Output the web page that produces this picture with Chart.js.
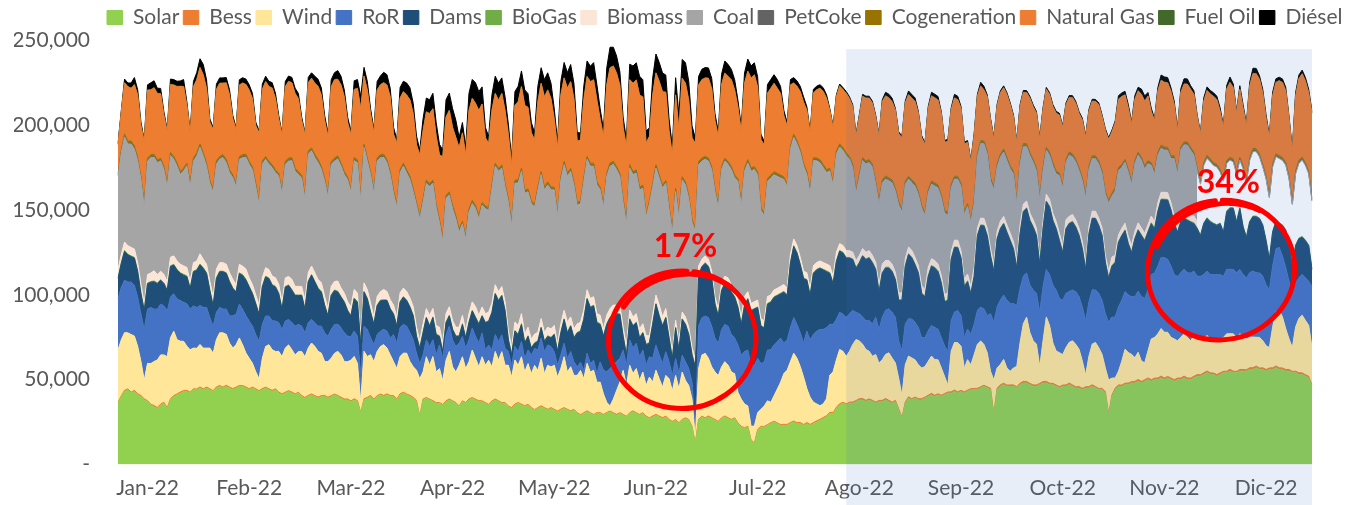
<!DOCTYPE html>
<html>
<head>
<meta charset="utf-8">
<script src="https://cdn.jsdelivr.net/npm/chart.js@4"></script>
<style>
  html, body { margin: 0; padding: 0; background: #fff; }
  #wrap { width: 1345px; height: 505px; }
</style>
</head>
<body>
<div id="wrap"><canvas id="chartMix" width="1345" height="505"></canvas></div>
<script>
/* Generación diaria 2022 por tecnología (miles de MWh / día) */

const DAYS = Array.from({ length: 365 }, (_, i) =>
  new Date(Date.UTC(2022, 0, 1 + i)).toISOString().slice(0, 10));

const MONTH_TICKS    = ['Jan-22','Feb-22','Mar-22','Apr-22','May-22','Jun-22','Jul-22','Ago-22','Sep-22','Oct-22','Nov-22','Dic-22'];
const MONTH_TICK_DAY = [9, 40, 71, 102, 133, 164, 195, 226, 257, 288, 319, 350];

const Y_TICKS = [0, 50000, 100000, 150000, 200000, 250000];

// one row per week, Sat..Fri (1 Jan 2022 = Saturday)
const SOLAR = [
36,40,43,44,42,43,41, 40,38,37,35,34,33,35, 36,33,38,40,41,42,43, 43,42,44,44,45,44,45,
44,43,45,46,45,46,45, 44,45,46,46,45,44,45, 44,43,44,45,44,43,44, 42,41,42,43,42,41,42,
40,39,40,41,40,39,40, 40,39,40,41,40,39,38, 38,37,38,37,30,38,39, 40,38,40,41,40,41,40,
40,38,41,42,41,40,39, 37,28,38,39,38,37,36, 36,35,37,38,37,36,34, 37,36,38,39,38,37,37,
36,35,37,38,37,36,36, 34,33,35,36,35,34,35, 33,32,33,34,33,32,33, 32,31,32,33,32,31,32,
30,29,30,31,30,29,30, 30,29,30,31,30,29,30, 29,28,30,31,30,29,30, 28,27,28,29,28,27,28,
26,25,26,24,26,27,26, 22,12,26,28,27,28,27, 26,25,27,28,27,26,27, 24,22,21,22,14,12,20,
22,22,23,24,25,24,23, 23,23,24,25,24,24,23, 24,23,24,25,26,27,28, 30,30,33,35,36,35,36,
36,37,38,38,37,38,37, 36,37,37,38,37,36,37, 32,27,36,39,38,39,38, 38,39,40,41,40,41,40,
41,42,42,43,42,43,42, 43,44,44,44,45,46,45, 44,29,44,46,47,46,46, 46,45,47,48,48,47,46,
46,47,48,48,47,47,46, 45,46,46,47,46,45,45, 44,45,45,46,45,44,44, 42,29,40,44,46,46,47,
47,48,48,49,48,49,50, 49,50,50,51,50,51,50, 49,50,50,51,50,50,51, 52,52,53,54,53,53,52,
53,54,54,55,54,54,55, 55,55,56,56,57,56,56, 55,56,56,57,56,56,55, 55,54,54,53,53,52,51,
46];

const BESS = [
0.6,0.5,0.7,0.6,0.6,0.7,0.6, 0.7,0.6,0.6,0.5,0.7,0.6,0.6, 0.6,0.5,0.7,0.6,0.6,0.7,0.6, 0.7,0.6,0.6,0.5,0.7,0.6,0.6,
0.6,0.5,0.7,0.6,0.6,0.7,0.6, 0.7,0.6,0.6,0.5,0.7,0.6,0.6, 0.6,0.5,0.7,0.6,0.6,0.7,0.6, 0.7,0.6,0.6,0.5,0.7,0.6,0.6,
0.6,0.5,0.7,0.6,0.6,0.7,0.6, 0.7,0.6,0.6,0.5,0.7,0.6,0.6, 0.6,0.5,0.7,0.6,0.6,0.7,0.6, 0.7,0.6,0.6,0.5,0.7,0.6,0.6,
0.6,0.5,0.7,0.6,0.6,0.7,0.6, 0.5,0.5,0.6,0.5,0.5,0.6,0.5, 0.5,0.4,0.5,0.6,0.5,0.5,0.5, 0.5,0.5,0.6,0.5,0.5,0.6,0.5,
0.5,0.4,0.5,0.6,0.5,0.5,0.5, 0.5,0.5,0.6,0.5,0.5,0.6,0.5, 0.5,0.4,0.5,0.6,0.5,0.5,0.5, 0.5,0.5,0.6,0.5,0.5,0.6,0.5,
0.5,0.4,0.5,0.6,0.5,0.5,0.5, 0.5,0.5,0.6,0.5,0.5,0.6,0.5, 0.5,0.4,0.5,0.6,0.5,0.5,0.5, 0.5,0.5,0.6,0.5,0.5,0.6,0.5,
0.5,0.4,0.5,0.6,0.5,0.5,0.5, 0.5,0.5,0.6,0.5,0.5,0.6,0.5, 0.5,0.4,0.5,0.6,0.5,0.5,0.5, 0.5,0.5,0.6,0.5,0.5,0.6,0.5,
0.5,0.4,0.5,0.6,0.5,0.5,0.5, 0.6,0.6,0.7,0.6,0.6,0.7,0.6, 0.7,0.6,0.7,0.7,0.6,0.7,0.7, 0.7,0.6,0.7,0.8,0.7,0.7,0.7,
0.8,0.7,0.8,0.9,0.8,0.7,0.8, 0.8,0.7,0.8,0.9,0.8,0.7,0.8, 0.8,0.7,0.8,0.9,0.8,0.7,0.8, 0.8,0.7,0.8,0.9,0.8,0.7,0.8,
0.8,0.7,0.8,0.9,0.8,0.7,0.8, 0.8,0.7,0.8,0.9,0.8,0.7,0.8, 0.9,0.8,0.9,1.0,0.9,0.8,0.9, 0.9,0.8,0.9,1.0,0.9,0.8,0.9,
0.9,0.8,0.9,1.0,0.9,0.8,0.9, 0.9,0.8,0.9,1.0,0.9,0.8,0.9, 0.9,0.8,0.9,1.0,0.9,0.8,0.9, 0.9,0.8,0.9,1.0,0.9,0.8,0.9,
1.0,0.9,1.0,1.1,1.0,0.9,1.0, 1.0,0.9,1.0,1.1,1.0,0.9,1.0, 1.0,0.9,1.0,1.1,1.0,0.9,1.0, 1.0,0.9,1.0,1.1,1.0,0.9,1.0,
1.0,0.9,1.0,1.1,1.0,0.9,1.0, 1.0,0.9,1.0,1.1,1.0,0.9,1.0, 1.0,0.9,1.0,1.1,1.0,0.9,1.0, 1.0,0.9,1.0,1.1,1.0,0.9,1.0,
0.9];

const WIND = [
31,33,34,33,34,32,28, 20,11,22,24,26,28,29, 28,30,36,38,32,30,29, 26,25,24,24,25,24,23,
24,22,28,31,32,30,26, 24,25,28,24,20,18,14, 10,7,18,24,26,24,22, 24,22,26,27,25,23,24,
26,24,28,30,29,27,25, 20,21,22,24,26,25,22, 22,24,25,22,6,28,24, 24,22,26,28,30,27,24,
20,18,22,23,24,20,18, 18,22,16,24,20,26,18, 20,14,24,28,20,18,24, 26,20,22,28,24,20,26,
22,26,20,28,24,30,22, 24,18,26,22,28,20,24, 20,26,22,28,20,26,24, 26,20,24,30,22,26,20,
22,26,20,28,24,26,18, 18,12,6,3,8,14,18, 26,18,28,22,26,20,24, 18,24,20,26,22,18,24,
24,18,26,20,28,22,20, 16,3,30,36,38,34,30, 28,27,30,32,31,28,26, 18,16,14,12,8,10,10,
10,12,14,12,15,20,25, 30,32,36,40,38,33,28, 20,16,12,10,8,8,10, 22,24,28,32,30,28,30,
34,36,34,32,30,28,26, 28,22,24,26,28,26,22, 18,13,22,24,24,22,20, 18,18,20,22,21,20,16,
10,4,24,28,29,26,14, 18,14,20,26,27,24,20, 10,20,12,12,14,10,8, 10,12,24,34,38,30,26,
24,10,24,38,34,24,20, 20,18,22,24,26,25,22, 16,7,18,24,26,24,20, 14,20,10,6,8,14,20,
18,16,14,16,12,10,16, 24,24,26,28,27,26,24, 24,22,24,25,24,22,24, 20,22,20,21,20,19,21,
20,20,22,21,22,20,21, 20,18,18,18,17,18,16, 14,12,24,32,34,30,24, 18,14,26,32,34,32,30,
22];

const ROR = [
30,31,31,30,31,30,29, 28,30,32,33,31,30,30, 29,27,24,22,24,24,23, 25,24,25,24,23,24,24,
18,16,16,15,14,15,16, 19,18,20,21,22,22,22, 22,22,20,18,17,17,18, 17,16,16,15,16,17,16,
15,14,15,14,14,15,16, 17,15,17,17,16,16,17, 15,14,15,16,16,15,16, 10,10,10,9,9,10,10,
16,15,17,17,16,17,16, 10,9,10,10,11,10,10, 14,13,15,15,16,15,13, 12,12,13,13,13,14,14,
9,9,10,10,11,10,10, 8,7,8,8,9,8,8, 11,10,12,12,13,12,12, 8,7,8,8,8,9,8,
5,5,5,6,5,6,5, 12,14,18,22,20,17,14, 12,12,15,15,15,14,13, 12,12,14,15,14,14,14,
10,9,10,9,10,11,10, 10,5,25,22,22,24,24, 20,19,22,22,23,22,21, 28,26,31,33,36,36,32,
27,26,30,31,30,28,26, 18,18,20,21,20,20,20, 34,34,40,43,45,44,42, 30,28,24,22,22,23,22,
20,16,16,16,17,18,19, 22,20,25,26,26,27,27, 22,26,24,22,23,22,22, 18,17,18,18,19,18,18,
18,20,18,18,19,18,18, 18,18,18,20,20,21,22, 34,34,36,38,38,40,40, 38,36,32,28,26,28,30,
30,32,32,28,30,34,36, 32,32,32,30,30,31,31, 32,32,32,32,31,32,32, 32,34,36,36,38,36,34,
34,34,36,36,38,38,36, 38,38,40,42,44,43,42, 38,38,38,38,38,40,38, 38,36,38,38,38,39,38,
38,36,38,38,38,38,38, 36,36,38,39,38,38,38, 36,34,36,37,37,36,36, 34,30,26,24,24,25,26,
36];

const DAMS = [
12,14,17,16,15,16,15, 12,11,15,15,16,15,14, 13,12,18,17,17,16,16, 16,12,20,22,24,23,20,
16,12,20,21,22,21,20, 16,13,18,20,21,20,19, 18,16,22,23,22,21,20, 17,12,20,20,19,18,17,
18,14,24,26,24,22,20, 16,12,20,20,19,18,18, 15,12,19,20,18,20,18, 15,12,17,18,17,18,17,
12,10,15,16,15,15,14, 10,9,13,13,12,13,12, 5,4,7,6,6,6,4, 7,6,10,10,11,11,10,
16,14,22,24,24,23,22, 7,6,9,10,10,9,8, 4,3,5,6,6,5,5, 10,8,13,14,15,15,14,
20,18,30,32,33,32,30, 22,20,28,30,29,28,26, 8,6,12,13,12,11,10, 12,8,20,24,23,22,20,
14,10,18,14,21,22,20, 16,37,30,30,31,30,28, 20,16,23,24,24,25,24, 22,18,27,30,32,33,30,
22,20,27,28,28,27,26, 30,26,38,42,42,40,38, 30,26,36,36,36,35,33, 30,24,34,36,36,35,33,
30,26,30,36,36,37,36, 28,22,26,25,24,24,22, 24,30,34,38,36,34,32, 26,24,32,35,35,34,32,
26,30,36,38,37,34,30, 28,24,28,44,48,49,47, 34,30,40,42,42,40,37, 32,22,32,38,38,38,37,
34,28,34,40,40,38,36, 34,28,38,40,40,38,36, 34,30,40,42,42,40,38, 30,26,30,32,38,38,36,
30,26,34,36,36,34,34, 30,26,32,34,34,35,33, 30,26,30,30,31,30,28, 28,24,30,31,31,30,29,
30,26,34,36,36,30,36, 28,24,30,32,33,32,30, 26,18,20,16,14,18,22, 22,18,22,23,22,22,21,
10];

const BIOGAS = [
0.4,0.4,0.5,0.4,0.4,0.4,0.5, 0.5,0.4,0.4,0.4,0.5,0.4,0.4, 0.4,0.4,0.5,0.4,0.4,0.4,0.5, 0.5,0.4,0.4,0.4,0.5,0.4,0.4,
0.4,0.4,0.5,0.4,0.4,0.4,0.5, 0.5,0.4,0.4,0.4,0.5,0.4,0.4, 0.4,0.4,0.5,0.4,0.4,0.4,0.5, 0.5,0.4,0.4,0.4,0.5,0.4,0.4,
0.4,0.4,0.5,0.4,0.4,0.4,0.5, 0.5,0.4,0.4,0.4,0.5,0.4,0.4, 0.4,0.4,0.5,0.4,0.4,0.4,0.5, 0.5,0.4,0.4,0.4,0.5,0.4,0.4,
0.4,0.4,0.5,0.4,0.4,0.4,0.5, 0.5,0.4,0.4,0.4,0.5,0.4,0.4, 0.4,0.4,0.5,0.4,0.4,0.4,0.5, 0.5,0.4,0.4,0.4,0.5,0.4,0.4,
0.4,0.4,0.5,0.4,0.4,0.4,0.5, 0.5,0.4,0.4,0.4,0.5,0.4,0.4, 0.4,0.4,0.5,0.4,0.4,0.4,0.5, 0.5,0.4,0.4,0.4,0.5,0.4,0.4,
0.4,0.4,0.5,0.4,0.4,0.4,0.5, 0.5,0.4,0.4,0.4,0.5,0.4,0.4, 0.4,0.4,0.5,0.4,0.4,0.4,0.5, 0.5,0.4,0.4,0.4,0.5,0.4,0.4,
0.4,0.4,0.5,0.4,0.4,0.4,0.5, 0.5,0.4,0.4,0.4,0.5,0.4,0.4, 0.4,0.4,0.5,0.4,0.4,0.4,0.5, 0.5,0.4,0.4,0.4,0.5,0.4,0.4,
0.4,0.4,0.5,0.4,0.4,0.4,0.5, 0.5,0.4,0.4,0.4,0.5,0.4,0.4, 0.4,0.4,0.5,0.4,0.4,0.4,0.5, 0.5,0.4,0.4,0.4,0.5,0.4,0.4,
0.4,0.4,0.5,0.4,0.4,0.4,0.5, 0.5,0.4,0.4,0.4,0.5,0.4,0.4, 0.4,0.4,0.5,0.4,0.4,0.4,0.5, 0.5,0.4,0.4,0.4,0.5,0.4,0.4,
0.4,0.4,0.5,0.4,0.4,0.4,0.5, 0.5,0.4,0.4,0.4,0.5,0.4,0.4, 0.4,0.4,0.5,0.4,0.4,0.4,0.5, 0.5,0.4,0.4,0.4,0.5,0.4,0.4,
0.4,0.4,0.5,0.4,0.4,0.4,0.5, 0.5,0.4,0.4,0.4,0.5,0.4,0.4, 0.4,0.4,0.5,0.4,0.4,0.4,0.5, 0.5,0.4,0.4,0.4,0.5,0.4,0.4,
0.4,0.4,0.5,0.4,0.4,0.4,0.5, 0.5,0.4,0.4,0.4,0.5,0.4,0.4, 0.4,0.4,0.5,0.4,0.4,0.4,0.5, 0.5,0.4,0.4,0.4,0.5,0.4,0.4,
0.4,0.4,0.5,0.4,0.4,0.4,0.5, 0.5,0.4,0.4,0.4,0.5,0.4,0.4, 0.4,0.4,0.5,0.4,0.4,0.4,0.5, 0.5,0.4,0.4,0.4,0.5,0.4,0.4,
0.4];

const BIOMASS = [
5,5,5,5,5,5,5, 5,4,5,5,6,5,5, 5,5,5,5,5,5,5, 5,4,5,5,6,5,5, 5,5,5,5,5,5,5, 5,4,5,5,6,5,5, 5,5,5,5,5,5,5,
5,4,5,5,6,5,5, 5,5,5,5,5,5,5, 5,4,5,5,6,5,5, 5,5,5,5,5,5,5, 5,4,5,5,6,5,5, 5,5,5,5,5,5,5, 5,4,5,5,6,5,5,
5,5,5,5,5,5,5, 5,4,5,5,6,5,5, 5,5,5,5,5,5,5, 5,4,5,5,6,5,5, 5,5,5,5,5,5,5, 5,4,5,5,6,5,5, 5,5,5,5,5,5,5,
5,4,5,5,6,5,5, 5,5,5,5,5,5,5, 5,4,5,5,6,5,5, 4,4,4,4,4,4,4, 4,4,5,4,4,4,4, 4,4,4,4,4,4,4, 4,4,5,4,4,4,4,
4,4,4,4,4,4,4, 4,4,5,4,4,4,4, 4,4,4,4,4,4,4, 4,4,5,4,4,4,4, 4,4,4,4,4,4,4, 4,4,5,4,4,4,4, 4,4,4,4,4,4,4,
4,4,5,4,4,4,4, 4,4,4,4,4,4,4, 4,4,5,4,4,4,4, 4,4,4,4,4,4,4, 4,4,5,4,4,4,4, 4,4,4,4,4,4,4, 4,4,5,4,4,4,4,
4,4,4,4,4,4,4, 4,4,5,4,4,4,4, 4,4,4,4,4,4,4, 4,4,5,4,4,4,4, 4,4,4,4,4,4,4,
4];

const COAL = [
55,60,62,60,61,59,60, 62,57,67,68,67,66,65, 62,56,60,57,56,53,56, 60,56,60,62,63,61,58,
58,62,62,61,62,60,59, 60,58,62,64,66,67,68, 64,60,67,64,62,64,62, 64,64,67,68,70,68,66,
64,60,70,68,68,69,67, 68,66,72,71,72,72,70, 72,68,76,77,80,80,76, 76,73,80,79,78,76,74,
66,65,71,72,70,70,68, 72,72,72,74,76,74,70, 62,60,68,66,66,64,56, 54,54,60,58,58,57,60,
62,60,68,70,71,70,68, 76,72,82,84,84,83,80, 80,75,84,85,84,84,82, 80,76,85,86,86,86,85,
70,70,76,77,78,77,76, 74,72,82,84,83,80,76, 74,72,84,84,83,82,80, 70,78,76,75,75,76,74,
72,70,76,74,78,78,76, 74,76,60,58,57,58,60, 62,60,67,68,67,68,66, 70,66,74,76,78,78,74,
64,62,68,69,68,66,64, 62,60,62,60,60,62,62, 58,56,62,60,58,56,54, 56,54,58,57,56,56,54,
50,40,46,52,52,52,52, 46,48,48,48,47,48,48, 52,48,44,40,40,42,42, 46,44,44,44,44,45,46,
48,46,38,36,36,38,38, 40,38,38,42,44,44,44, 40,44,38,38,38,38,38, 40,34,36,34,32,34,34,
34,34,30,26,26,28,28, 34,34,34,36,34,34,34, 36,38,34,31,31,32,32, 36,40,36,38,38,36,36,
38,36,40,40,40,38,36, 30,28,28,26,25,25,26, 34,30,38,39,40,38,36, 30,30,34,35,35,34,34,
30,30,28,28,27,28,28, 34,32,36,38,38,36,34, 36,36,38,38,38,38,38, 38,36,42,44,45,44,42,
40];

const PETCOKE = [
0.5,0.4,0.5,0.5,0.6,0.5,0.5, 0.4,0.4,0.5,0.6,0.5,0.5,0.4, 0.5,0.4,0.5,0.5,0.6,0.5,0.5, 0.4,0.4,0.5,0.6,0.5,0.5,0.4,
0.5,0.4,0.5,0.5,0.6,0.5,0.5, 0.4,0.4,0.5,0.6,0.5,0.5,0.4, 0.5,0.4,0.5,0.5,0.6,0.5,0.5, 0.4,0.4,0.5,0.6,0.5,0.5,0.4,
0.5,0.4,0.5,0.5,0.6,0.5,0.5, 0.4,0.4,0.5,0.6,0.5,0.5,0.4, 0.5,0.4,0.5,0.5,0.6,0.5,0.5, 0.4,0.4,0.5,0.6,0.5,0.5,0.4,
0.5,0.4,0.5,0.5,0.6,0.5,0.5, 0.4,0.4,0.5,0.6,0.5,0.5,0.4, 0.5,0.4,0.5,0.5,0.6,0.5,0.5, 0.4,0.4,0.5,0.6,0.5,0.5,0.4,
0.5,0.4,0.5,0.5,0.6,0.5,0.5, 0.4,0.4,0.5,0.6,0.5,0.5,0.4, 0.5,0.4,0.5,0.5,0.6,0.5,0.5, 0.4,0.4,0.5,0.6,0.5,0.5,0.4,
0.5,0.4,0.5,0.5,0.6,0.5,0.5, 0.4,0.4,0.5,0.6,0.5,0.5,0.4, 0.5,0.4,0.5,0.5,0.6,0.5,0.5, 0.4,0.4,0.5,0.6,0.5,0.5,0.4,
0.5,0.4,0.5,0.5,0.6,0.5,0.5, 0.4,0.4,0.5,0.6,0.5,0.5,0.4, 0.5,0.4,0.5,0.5,0.6,0.5,0.5, 0.4,0.4,0.5,0.6,0.5,0.5,0.4,
0.5,0.4,0.5,0.5,0.6,0.5,0.5, 0.4,0.4,0.5,0.6,0.5,0.5,0.4, 0.5,0.4,0.5,0.5,0.6,0.5,0.5, 0.4,0.4,0.5,0.6,0.5,0.5,0.4,
0.5,0.4,0.5,0.5,0.6,0.5,0.5, 0.4,0.4,0.5,0.6,0.5,0.5,0.4, 0.5,0.4,0.5,0.5,0.6,0.5,0.5, 0.4,0.4,0.5,0.6,0.5,0.5,0.4,
0.5,0.4,0.5,0.5,0.6,0.5,0.5, 0.4,0.4,0.5,0.6,0.5,0.5,0.4, 0.5,0.4,0.5,0.5,0.6,0.5,0.5, 0.4,0.4,0.5,0.6,0.5,0.5,0.4,
0.5,0.4,0.5,0.5,0.6,0.5,0.5, 0.4,0.4,0.5,0.6,0.5,0.5,0.4, 0.5,0.4,0.5,0.5,0.6,0.5,0.5, 0.4,0.4,0.5,0.6,0.5,0.5,0.4,
0.5,0.4,0.5,0.5,0.6,0.5,0.5, 0.4,0.4,0.5,0.6,0.5,0.5,0.4, 0.5,0.4,0.5,0.5,0.6,0.5,0.5, 0.4,0.4,0.5,0.6,0.5,0.5,0.4,
0.5,0.4,0.5,0.5,0.6,0.5,0.5, 0.4,0.4,0.5,0.6,0.5,0.5,0.4, 0.5,0.4,0.5,0.5,0.6,0.5,0.5, 0.4,0.4,0.5,0.6,0.5,0.5,0.4,
0.5];

const COGEN = [
1.2,1.1,1.3,1.2,1.2,1.3,1.2, 1.1,1.1,1.2,1.3,1.3,1.2,1.2, 1.2,1.1,1.3,1.2,1.2,1.3,1.2, 1.1,1.1,1.2,1.3,1.3,1.2,1.2,
1.2,1.1,1.3,1.2,1.2,1.3,1.2, 1.1,1.1,1.2,1.3,1.3,1.2,1.2, 1.2,1.1,1.3,1.2,1.2,1.3,1.2, 1.1,1.1,1.2,1.3,1.3,1.2,1.2,
1.2,1.1,1.3,1.2,1.2,1.3,1.2, 1.1,1.1,1.2,1.3,1.3,1.2,1.2, 1.2,1.1,1.3,1.2,1.2,1.3,1.2, 1.1,1.1,1.2,1.3,1.3,1.2,1.2,
1.2,1.1,1.3,1.2,1.2,1.3,1.2, 1.1,1.1,1.2,1.3,1.3,1.2,1.2, 1.2,1.1,1.3,1.2,1.2,1.3,1.2, 1.1,1.1,1.2,1.3,1.3,1.2,1.2,
1.2,1.1,1.3,1.2,1.2,1.3,1.2, 1.1,1.1,1.2,1.3,1.3,1.2,1.2, 1.2,1.1,1.3,1.2,1.2,1.3,1.2, 1.1,1.1,1.2,1.3,1.3,1.2,1.2,
1.2,1.1,1.3,1.2,1.2,1.3,1.2, 1.1,1.1,1.2,1.3,1.3,1.2,1.2, 1.2,1.1,1.3,1.2,1.2,1.3,1.2, 1.1,1.1,1.2,1.3,1.3,1.2,1.2,
1.2,1.1,1.3,1.2,1.2,1.3,1.2, 1.1,1.1,1.2,1.3,1.3,1.2,1.2, 1.2,1.1,1.3,1.2,1.2,1.3,1.2, 1.1,1.1,1.2,1.3,1.3,1.2,1.2,
1.2,1.1,1.3,1.2,1.2,1.3,1.2, 1.1,1.1,1.2,1.3,1.3,1.2,1.2, 1.2,1.1,1.3,1.2,1.2,1.3,1.2, 1.1,1.1,1.2,1.3,1.3,1.2,1.2,
1.2,1.1,1.3,1.2,1.2,1.3,1.2, 1.1,1.1,1.2,1.3,1.3,1.2,1.2, 1.2,1.1,1.3,1.2,1.2,1.3,1.2, 1.1,1.1,1.2,1.3,1.3,1.2,1.2,
1.2,1.1,1.3,1.2,1.2,1.3,1.2, 1.1,1.1,1.2,1.3,1.3,1.2,1.2, 1.2,1.1,1.3,1.2,1.2,1.3,1.2, 1.1,1.1,1.2,1.3,1.3,1.2,1.2,
1.2,1.1,1.3,1.2,1.2,1.3,1.2, 1.1,1.1,1.2,1.3,1.3,1.2,1.2, 1.2,1.1,1.3,1.2,1.2,1.3,1.2, 1.1,1.1,1.2,1.3,1.3,1.2,1.2,
1.2,1.1,1.3,1.2,1.2,1.3,1.2, 1.1,1.1,1.2,1.3,1.3,1.2,1.2, 1.2,1.1,1.3,1.2,1.2,1.3,1.2, 1.1,1.1,1.2,1.3,1.3,1.2,1.2,
1.2,1.1,1.3,1.2,1.2,1.3,1.2, 1.1,1.1,1.2,1.3,1.3,1.2,1.2, 1.2,1.1,1.3,1.2,1.2,1.3,1.2, 1.1,1.1,1.2,1.3,1.3,1.2,1.2,
1.2];

const GAS = [
17,22,30,32,31,36,37, 30,37,40,38,39,39,38, 30,31,40,42,45,50,48, 34,30,42,43,45,46,44,
34,35,42,43,42,45,44, 33,32,42,42,41,42,40, 34,40,42,44,44,45,42, 32,33,44,45,44,44,43,
32,36,40,41,42,43,42, 34,34,44,46,45,46,44, 32,32,40,42,52,40,40, 34,34,40,41,42,44,44,
33,36,42,42,44,45,44, 34,36,40,40,41,42,40, 38,48,46,48,46,46,48, 52,48,58,60,60,62,58,
40,38,44,41,40,42,43, 38,34,44,46,48,50,48, 40,38,50,52,53,54,52, 40,38,48,49,50,51,49,
36,36,46,47,48,49,48, 40,40,52,56,56,55,52, 42,44,50,52,53,54,52, 42,38,52,54,55,55,52,
44,44,55,50,58,58,56, 48,50,45,46,46,47,46, 40,40,48,50,50,51,50, 42,42,50,52,53,54,50,
40,40,50,51,52,50,48, 36,34,36,30,32,34,36, 36,34,38,40,42,43,42, 34,32,32,34,34,35,34,
34,32,34,36,37,36,36, 38,38,46,47,47,46,46, 40,42,46,48,48,48,46, 40,40,48,50,50,50,48,
40,42,44,46,45,44,40, 36,34,38,34,32,30,32, 34,28,34,36,36,37,36, 32,34,32,30,30,32,31,
32,34,34,34,34,33,34, 34,34,32,32,33,33,32, 34,34,32,32,32,33,32, 36,36,36,38,40,40,38,
36,34,36,36,37,38,38, 30,30,36,38,38,38,38, 30,24,32,34,34,34,34, 30,28,36,38,38,39,38,
34,30,42,44,42,34,40, 34,32,42,44,44,44,42, 34,34,40,42,44,44,42, 34,30,44,48,49,48,46,
50];

const FUEL_OIL = [
0.2,0.2,0.3,0.3,0.2,0.3,0.2, 0.2,0.1,0.2,0.3,0.3,0.2,0.2, 0.2,0.2,0.3,0.3,0.2,0.3,0.2, 0.2,0.1,0.2,0.3,0.3,0.2,0.2,
0.2,0.2,0.3,0.3,0.2,0.3,0.2, 0.2,0.1,0.2,0.3,0.3,0.2,0.2, 0.2,0.2,0.3,0.3,0.2,0.3,0.2, 0.2,0.1,0.2,0.3,0.3,0.2,0.2,
0.2,0.2,0.3,0.3,0.2,0.3,0.2, 0.2,0.1,0.2,0.3,0.3,0.2,0.2, 0.2,0.2,0.3,0.3,0.2,0.3,0.2, 0.2,0.1,0.2,0.3,0.3,0.2,0.2,
0.2,0.2,0.3,0.3,0.2,0.3,0.2, 0.2,0.1,0.2,0.3,0.3,0.2,0.2, 0.2,0.2,0.3,0.3,0.2,0.3,0.2, 0.2,0.1,0.2,0.3,0.3,0.2,0.2,
0.2,0.2,0.3,0.3,0.2,0.3,0.2, 0.2,0.1,0.2,0.3,0.3,0.2,0.2, 0.2,0.2,0.3,0.3,0.2,0.3,0.2, 0.2,0.1,0.2,0.3,0.3,0.2,0.2,
0.2,0.2,0.3,0.3,0.2,0.3,0.2, 0.2,0.1,0.2,0.3,0.3,0.2,0.2, 0.2,0.2,0.3,0.3,0.2,0.3,0.2, 0.2,0.1,0.2,0.3,0.3,0.2,0.2,
0.2,0.2,0.3,0.3,0.2,0.3,0.2, 0.2,0.1,0.2,0.3,0.3,0.2,0.2, 0.2,0.2,0.3,0.3,0.2,0.3,0.2, 0.2,0.1,0.2,0.3,0.3,0.2,0.2,
0.2,0.2,0.3,0.3,0.2,0.3,0.2, 0.2,0.1,0.2,0.3,0.3,0.2,0.2, 0.2,0.2,0.3,0.3,0.2,0.3,0.2, 0.2,0.1,0.2,0.3,0.3,0.2,0.2,
0.2,0.2,0.3,0.3,0.2,0.3,0.2, 0.2,0.1,0.2,0.3,0.3,0.2,0.2, 0.2,0.2,0.3,0.3,0.2,0.3,0.2, 0.2,0.1,0.2,0.3,0.3,0.2,0.2,
0.2,0.2,0.3,0.3,0.2,0.3,0.2, 0.2,0.1,0.2,0.3,0.3,0.2,0.2, 0.2,0.2,0.3,0.3,0.2,0.3,0.2, 0.2,0.1,0.2,0.3,0.3,0.2,0.2,
0.2,0.2,0.3,0.3,0.2,0.3,0.2, 0.2,0.1,0.2,0.3,0.3,0.2,0.2, 0.2,0.2,0.3,0.3,0.2,0.3,0.2, 0.2,0.1,0.2,0.3,0.3,0.2,0.2,
0.2,0.2,0.3,0.3,0.2,0.3,0.2, 0.2,0.1,0.2,0.3,0.3,0.2,0.2, 0.2,0.2,0.3,0.3,0.2,0.3,0.2, 0.2,0.1,0.2,0.3,0.3,0.2,0.2,
0.2,0.2,0.3,0.3,0.2,0.3,0.2, 0.2,0.1,0.2,0.3,0.3,0.2,0.2, 0.2,0.2,0.3,0.3,0.2,0.3,0.2, 0.2,0.1,0.2,0.3,0.3,0.2,0.2,
0.2];

const DIESEL = [
0.5,1,2,2,3,4,3, 2,1,3,4,4,3,3, 2,1,3,3,3,3,4, 2,1,3,4,5,6,5, 2,1,3,3,3,3,3, 2,1,3,3,3,3,3, 2,1,3,3,3,3,3,
2,1,3,3,3,3,3, 2,1,3,3,4,4,4, 3,2,4,4,5,5,4, 3,2,5,5,7,5,5, 3,2,5,5,6,6,5, 4,2,6,6,7,7,6, 5,3,7,8,8,9,8,
6,4,10,10,11,10,6, 6,5,10,11,12,11,10, 6,4,9,10,10,9,8, 6,4,8,9,9,9,8, 6,4,9,9,10,10,9, 6,4,8,9,9,10,9,
5,4,8,9,9,10,9, 6,4,10,12,11,10,8, 6,4,9,10,10,11,10, 7,5,10,11,11,11,10, 7,5,10,8,11,12,11, 7,3,5,6,6,6,6,
4,3,6,7,7,6,6, 4,3,6,7,7,7,6, 3,2,5,5,5,5,4, 3,2,3,3,3,3,3, 2,1,2,2,2,2,2, 1,1,1,1,1,1,1, 1,1,1,1,1,1,1,
1,1,1,2,2,2,1, 1,1,1,2,2,2,1, 1,1,1,2,2,2,1, 1,1,1,2,2,1,1, 1,1,1,1,2,2,1, 1,1,1,1,1,1,1, 1,1,1,1,1,1,1,
1,1,1,1,1,1,1, 1,1,1,1,1,1,1, 1,1,1,1,1,1,1, 1,1,1,1,2,2,2, 2,1,2,2,3,3,2, 2,1,2,3,3,3,2, 2,1,2,3,3,2,2,
1,1,2,2,2,2,2, 2,1,2,3,2,1,2, 2,1,2,3,3,2,2, 2,1,2,2,2,2,2, 1,1,2,2,2,2,2,
1];

// annotations (day index, value in MWh)
const NOTE_LABELS   = ['17%', '34%'];
const NOTE_TEXT_AT  = [[173, 128500], [338.5, 166000]];
const NOTE_RING_AT  = [[172, 73500], [336.3, 114600]];
const NOTE_RING_R   = [[22.5, 40500], [22.5, 41000]];
const SHADE_FROM    = [222, 245000];

const SERIES = [
  ['Solar', SOLAR, '#92D050'],
  ['Bess', BESS, '#ED7D31'],
  ['Wind', WIND, '#FFE699'],
  ['RoR', ROR, '#4472C4'],
  ['Dams', DAMS, '#1F4E79'],
  ['BioGas', BIOGAS, '#70AD47'],
  ['Biomass', BIOMASS, '#FBE5D6'],
  ['Coal', COAL, '#A5A5A5'],
  ['PetCoke', PETCOKE, '#636363'],
  ['Cogeneration', COGEN, '#997300'],
  ['Natural Gas', GAS, '#ED7D31'],
  ['Fuel Oil', FUEL_OIL, '#43682B'],
  ['Diésel', DIESEL, '#000000'],
];

const TXT = '#595959';
Chart.defaults.font.family = 'Lato';
Chart.defaults.font.size = 21;
Chart.defaults.color = TXT;

// put the legend row where the source has it (starts over the plot)
const legendShift = {
  id: 'legendShift',
  afterLayout(chart) {
    const lg = chart.legend;
    const w = lg.right - lg.left, h = lg.bottom - lg.top;
    lg.left = 107 - lg.options.labels.padding;
    lg.right = lg.left + w;
    lg.top = 3;
    lg.bottom = lg.top + h;
  }
};

function ring(ctx, cx, cy, rx, ry, rot) {
  ctx.beginPath();
  ctx.ellipse(cx, cy, rx, ry, rot, -0.42 * Math.PI, 1.55 * Math.PI);
  ctx.stroke();
  ctx.beginPath();
  ctx.ellipse(cx + 5, cy + 8, rx + 3, ry + 5, rot, 1.22 * Math.PI, 1.72 * Math.PI);
  ctx.stroke();
}

const notes = {
  id: 'notes',
  afterDraw(chart) {
    const { ctx, scales: { x, y }, chartArea } = chart;
    ctx.save();
    // tinted block from August onwards
    const sx = x.getPixelForValue(SHADE_FROM[0]);
    const sy = y.getPixelForValue(SHADE_FROM[1]);
    ctx.fillStyle = 'rgba(68,114,196,0.12)';
    ctx.fillRect(sx, sy, chartArea.right - sx, chart.height - sy);

    ctx.strokeStyle = '#FF0000';
    ctx.lineWidth = 5;
    ctx.lineCap = 'round';
    NOTE_RING_AT.forEach(([d, v], i) => {
      const cx = x.getPixelForValue(d), cy = y.getPixelForValue(v);
      const rx = x.getPixelForValue(d + NOTE_RING_R[i][0]) - cx;
      const ry = y.getPixelForValue(v - NOTE_RING_R[i][1]) - cy;
      ring(ctx, cx, cy, rx, ry, i === 0 ? -0.1 : -0.25);
    });

    ctx.fillStyle = '#FF0000';
    ctx.font = 'bold 32px Lato';
    ctx.textAlign = 'center';
    ctx.textBaseline = 'middle';
    NOTE_TEXT_AT.forEach(([d, v], i) => {
      ctx.fillText(NOTE_LABELS[i], x.getPixelForValue(d), y.getPixelForValue(v));
    });
    ctx.restore();
  }
};

const ctx = document.getElementById('chartMix').getContext('2d');
new Chart(ctx, {
  type: 'line',
  data: {
    labels: DAYS,
    datasets: SERIES.map(([label, values, color], i) => ({
      label,
      data: values.map(v => v * 1000),
      backgroundColor: color,
      borderColor: color,
      borderWidth: 1,
      pointRadius: 0,
      pointHoverRadius: 0,
      tension: 0,
      fill: i === 0 ? 'origin' : '-1'
    }))
  },
  options: {
    responsive: false,
    animation: false,
    devicePixelRatio: 1,
    layout: { autoPadding: false, padding: { top: -4, left: 14, right: 33, bottom: 0 } },
    plugins: {
      legend: {
        position: 'top',
        align: 'start',
        labels: { boxWidth: 15.5, boxHeight: 14, padding: 4, color: TXT, font: { size: 21 } }
      },
      tooltip: { enabled: false }
    },
    scales: {
      x: {
        grid: { display: false, drawTicks: false },
        border: { display: false },
        afterFit: axis => { axis.height = 34; },
        ticks: {
          autoSkip: false, maxRotation: 0, minRotation: 0, padding: 11, color: TXT,
          callback: (val, idx) => {
            const k = MONTH_TICK_DAY.indexOf(idx);
            return k >= 0 ? MONTH_TICKS[k] : null;
          }
        }
      },
      y: {
        stacked: true,
        min: Y_TICKS[0],
        max: Y_TICKS[Y_TICKS.length - 1],
        grid: { display: false, drawTicks: false },
        border: { display: false },
        afterFit: axis => { axis.width = 104; },
        afterBuildTicks: axis => { axis.ticks = Y_TICKS.map(v => ({ value: v })); },
        ticks: {
          padding: 28, color: TXT,
          callback: v => v === 0 ? '-' : v.toLocaleString('en-US')
        }
      }
    }
  },
  plugins: [legendShift, notes]
});
</script>
</body>
</html>
